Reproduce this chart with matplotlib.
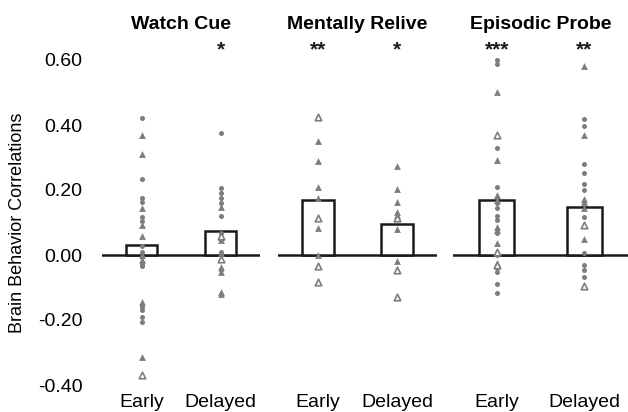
import matplotlib
matplotlib.use("Agg")
import matplotlib.pyplot as plt

plt.rcParams["font.family"] = ["Liberation Sans", "DejaVu Sans"]

panel_titles = ["Watch Cue", "Mentally Relive", "Episodic Probe"]
conditions = ["Early", "Delayed"]

# bar means (panel x condition)
bar_means = [[0.030, 0.073], [0.170, 0.094], [0.170, 0.148]]
stars = [["", "*"], ["**", "*"], ["***", "**"]]

# individual correlations: circles, filled triangles, open triangles
wc_early_circ = [0.42, 0.235, 0.175, 0.163, 0.117, 0.105, 0.028, 0.01, -0.005,
                 -0.02, -0.03, -0.035, -0.16, -0.17, -0.19, -0.205]
wc_early_tri = [0.37, 0.31, 0.145, 0.092, 0.058, 0.0, -0.015, -0.145, -0.315]
wc_early_open = [-0.37]

wc_delayed_circ = [0.375, 0.205, 0.19, 0.175, 0.16, 0.12, 0.068, 0.01, -0.045]
wc_delayed_tri = [0.148, 0.055, 0.045, 0.005, -0.037, -0.052, -0.115, -0.12]
wc_delayed_open = [0.06, -0.012]

mr_early_circ = []
mr_early_tri = [0.35, 0.29, 0.21, 0.175, 0.083, 0.0]
mr_early_open = [0.425, 0.113, -0.035, -0.083]

mr_delayed_circ = []
mr_delayed_tri = [0.275, 0.203, 0.163, 0.132, 0.123, 0.08, -0.018]
mr_delayed_open = [0.113, -0.045, -0.128]

ep_early_circ = [0.60, 0.587, 0.33, 0.21, 0.16, 0.145, 0.12, 0.108, 0.068, 0.0,
                 -0.04, -0.052, -0.09, -0.117]
ep_early_tri = [0.50, 0.292, 0.185, 0.17, 0.086, 0.077, 0.037, -0.025]
ep_early_open = [0.37, 0.008, -0.032]

ep_delayed_circ = [0.418, 0.397, 0.28, 0.252, 0.22, 0.2, 0.117, 0.006, -0.03,
                   -0.046, -0.068]
ep_delayed_tri = [0.58, 0.37, 0.172, 0.163, 0.145, 0.05]
ep_delayed_open = [0.092, -0.095]

points = [
    [(wc_early_circ, wc_early_tri, wc_early_open),
     (wc_delayed_circ, wc_delayed_tri, wc_delayed_open)],
    [(mr_early_circ, mr_early_tri, mr_early_open),
     (mr_delayed_circ, mr_delayed_tri, mr_delayed_open)],
    [(ep_early_circ, ep_early_tri, ep_early_open),
     (ep_delayed_circ, ep_delayed_tri, ep_delayed_open)],
]

yticks = [-0.4, -0.2, 0.0, 0.2, 0.4, 0.6]
gray = "#7d7d7d"
dark = "#1a1a1a"

fig = plt.figure(figsize=(6.28, 4.12), dpi=100)
lefts = [102, 278, 453]
widths = [158, 159, 175]
bottom = 1 - 391.5 / 412
height = (391.5 - 50.25) / 412

for i in range(3):
    ax = fig.add_axes([lefts[i] / 628, bottom, widths[i] / 628, height])
    ax.set_xlim(-0.5, 1.5)
    ax.set_ylim(-0.42, 0.63)
    for s in ax.spines.values():
        s.set_visible(False)
    ax.axhline(0, color=dark, lw=1.8, zorder=1)
    ax.bar([0, 1], bar_means[i], width=0.4, facecolor="white",
           edgecolor=dark, linewidth=1.8, zorder=2)
    for j in range(2):
        circ, tri, opn = points[i][j]
        ax.scatter([j] * len(circ), circ, s=13, marker="o", color=gray,
                   linewidths=0, zorder=3)
        ax.scatter([j] * len(tri), tri, s=24, marker="^", color=gray,
                   linewidths=0, zorder=3)
        ax.scatter([j] * len(opn), opn, s=22, marker="^", facecolor="white",
                   edgecolor=gray, linewidths=1.2, zorder=3)
        if stars[i][j]:
            ax.text(j, 0.63, stars[i][j], ha="center", va="center",
                    fontsize=15, fontweight="bold", color=dark, clip_on=False)
    ax.set_xticks([0, 1])
    ax.set_xticklabels(conditions, fontsize=14)
    ax.tick_params(axis="x", length=0, pad=2)
    if i == 0:
        ax.set_yticks(yticks)
        ax.set_yticklabels([f"{v:.2f}" for v in yticks], fontsize=14)
        ax.tick_params(axis="y", length=0, pad=14)
    else:
        ax.set_yticks([])
    ax.set_title(panel_titles[i], fontsize=14, fontweight="bold", pad=15)

fig.text(18 / 628, 0.46, "Brain Behavior Correlations", rotation=90,
         ha="center", va="center", fontsize=13)

fig.savefig("out.png", dpi=100)
